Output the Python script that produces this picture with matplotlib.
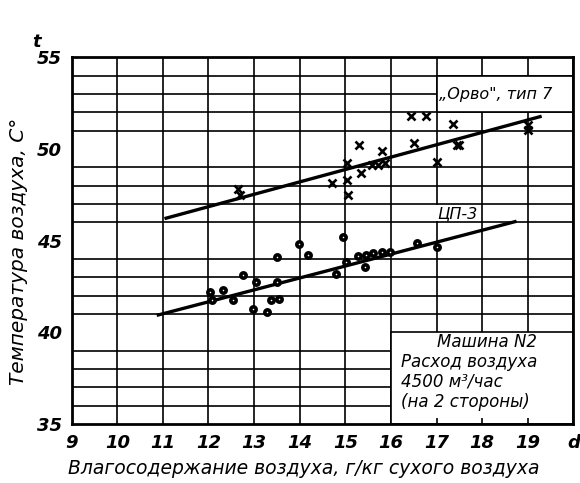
import matplotlib
matplotlib.use("Agg")
import matplotlib.pyplot as plt
from matplotlib.patches import Rectangle

# moisture content, g/kg dry air  /  air temperature, C
orvo_x = [12.65, 12.7, 14.7, 15.03, 15.03, 15.05, 15.3, 15.35, 15.58, 15.72,
          15.87, 15.8, 16.45, 16.78, 16.5, 17.0, 17.37, 17.44, 17.5, 19.0, 19.0]
orvo_t = [47.8, 47.5, 48.15, 49.25, 48.3, 47.5, 50.25, 48.7, 49.15, 49.15,
          49.25, 49.9, 51.8, 51.8, 50.35, 49.3, 51.35, 50.2, 50.2, 51.3, 51.05]

cp_x = [12.03, 12.07, 12.31, 12.53, 12.76, 12.98, 13.04, 13.28, 13.36, 13.55,
        13.5, 13.51, 13.99, 14.19, 14.8, 14.96, 15.02, 15.27, 15.43, 15.45,
        15.61, 15.8, 15.98, 16.57, 17.0]
cp_t = [42.22, 41.77, 42.32, 41.75, 43.15, 41.3, 42.75, 41.12, 41.75, 41.8,
        44.1, 42.75, 44.8, 44.23, 43.19, 45.19, 43.86, 44.19, 43.59, 44.22,
        44.32, 44.37, 44.4, 44.86, 44.68]

# fitted lines (end points)
orvo_fit_x = [11.07, 19.27]
orvo_fit_t = [46.23, 51.77]
cp_fit_x = [10.9, 18.72]
cp_fit_t = [40.95, 46.04]

x_ticks = list(range(9, 21))
x_labels = [str(v) for v in range(9, 20)] + ["d"]
y_ticks = [35, 40, 45, 50, 55]

info = ["Расход воздуха", "4500 м³/час", "(на 2 стороны)"]

plt.rcParams["font.family"] = "DejaVu Sans"
plt.rcParams["font.style"] = "italic"

fig = plt.figure(figsize=(5.8, 4.83), dpi=100)
ax = fig.add_axes([0.1236, 0.1222, 0.8649, 0.7588])
ax.set_xlim(9, 20)
ax.set_ylim(35, 55)

ax.set_xticks(x_ticks)
ax.set_xticklabels(x_labels, fontweight="bold")
ax.set_yticks(y_ticks)
ax.set_yticklabels([str(v) for v in y_ticks], fontweight="bold")
ax.set_yticks(range(35, 56), minor=True)
ax.tick_params(which="both", length=0, labelsize=13, pad=7)
ax.set_axisbelow(True)
ax.grid(True, which="major", axis="x", color="black", lw=1.2)
ax.grid(True, which="minor", axis="y", color="black", lw=1.2)
for s in ax.spines.values():
    s.set_linewidth(2.0)
    s.set_zorder(6)

# label areas cut out of the grid
ax.add_patch(Rectangle((17, 52), 3, 2, facecolor="white", edgecolor="black",
                       lw=1.2, zorder=1))
ax.add_patch(Rectangle((16.97, 46.06), 1.0, 0.9, facecolor="white",
                       edgecolor="none", zorder=1))
ax.add_patch(Rectangle((16, 35), 4, 5, facecolor="white", edgecolor="black",
                       lw=1.2, zorder=1))
ax.vlines([17, 18, 19], 35, 35.35, color="black", lw=1.2, zorder=2)

ax.plot(orvo_fit_x, orvo_fit_t, color="black", lw=2.4, zorder=3)
ax.plot(cp_fit_x, cp_fit_t, color="black", lw=2.4, zorder=3)
ax.plot(orvo_x, orvo_t, "x", color="black", ms=6, mew=1.9, zorder=4)
ax.plot(cp_x, cp_t, "o", mfc="white", mec="black", ms=3.8, mew=2.6, zorder=4)

ax.text(17.05, 53.0, "„Орво\", тип 7", fontsize=11.5, va="center", ha="left", zorder=5)
ax.text(17.02, 46.45, "ЦП-3", fontsize=11.5, va="center", ha="left", zorder=5)
ax.text(18.1, 39.5, "Машина N2", fontsize=12, va="center", ha="center", zorder=5)
for i, line in enumerate(info):
    ax.text(16.22, 38.4 - 1.09 * i, line, fontsize=12, va="center", ha="left", zorder=5)

ax.set_xlabel("Влагосодержание воздуха, г/кг сухого воздуха", fontsize=13.5)
ax.xaxis.set_label_coords(0.463, -0.095)
ax.set_ylabel("Температура воздуха, С°", fontsize=14.5)
ax.yaxis.set_label_coords(-0.087, 0.47)
fig.text(37 / 580, 1 - 42 / 483, "t", fontsize=13, fontweight="bold",
         ha="center", va="center")

fig.savefig("out.png", dpi=100)
